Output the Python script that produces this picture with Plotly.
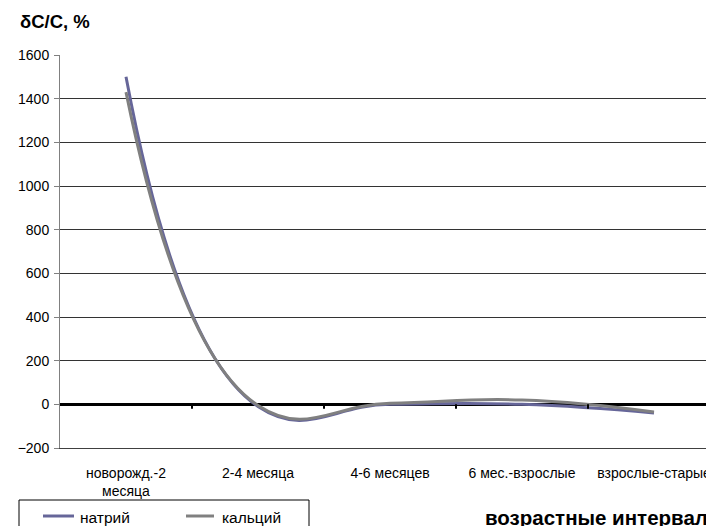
import plotly.graph_objects as go

# Age intervals (x categories) and relative change of ion content, %
categories = ["новорожд.-2<br>месяца", "2-4 месяца", "4-6 месяцев",
              "6 мес.-взрослые", "взрослые-старые"]
sodium = [1500, -10, 0, 0, -40]    # натрий
calcium = [1430, -5, 5, 20, -35]   # кальций
series_names = ["натрий", "кальций"]
series_colors = ["#666699", "#808080"]

y_ticks = [-200, 0, 200, 400, 600, 800, 1000, 1200, 1400, 1600]

W, H = 706, 526
ML, MR, MT, MB = 60, 0, 55, 78
plot_w = W - ML - MR
plot_h = H - MT - MB
cat_px = 132  # width of one category slot

font_family = "Arial, 'Liberation Sans', sans-serif"
idx = list(range(len(categories)))


def px_x(px):
    """Pixel column -> paper x."""
    return (px - ML) / plot_w


def px_y(px):
    """Pixel row -> paper y."""
    return (H - MB - px) / plot_h


fig = go.Figure()
for name, values, color in zip(series_names, [sodium, calcium], series_colors):
    fig.add_trace(go.Scatter(
        x=idx, y=values, name=name, mode="lines", showlegend=False,
        line=dict(color=color, width=3, shape="spline", smoothing=1.3),
    ))

# small tick marks on the zero line between categories
for i in range(len(categories) - 1):
    fig.add_shape(type="line", xref="x", yref="y",
                  x0=i + 0.5, x1=i + 0.5, y0=0, y1=-20,
                  line=dict(color="black", width=2), layer="above")

x_range = [-0.5, -0.5 + plot_w / cat_px]

fig.update_layout(
    width=W, height=H,
    margin=dict(l=ML, r=MR, t=MT, b=MB, pad=0, autoexpand=False),
    paper_bgcolor="white", plot_bgcolor="white",
    font=dict(family=font_family, size=14, color="black"),
    showlegend=False,
    xaxis=dict(
        range=x_range, tickmode="array", tickvals=idx, ticktext=categories,
        showgrid=False, zeroline=False, showline=True, linecolor="#404040",
        linewidth=1, ticks="", ticklabelstandoff=12,
        ticklabeloverflow="allow",
        tickfont=dict(size=14, family=font_family, color="black"),
    ),
    yaxis=dict(
        range=[-200, 1600], tickmode="array", tickvals=y_ticks,
        showgrid=True, gridcolor="#333333", gridwidth=1,
        zeroline=True, zerolinecolor="black", zerolinewidth=3,
        showline=True, linecolor="#808080", linewidth=1,
        ticks="outside", ticklen=5, tickcolor="#808080",
        ticklabelstandoff=2,
        tickfont=dict(size=14, family=font_family, color="black"),
    ),
)

# legend: frame, keys and names
fig.add_shape(type="rect", xref="paper", yref="paper",
              x0=px_x(19), x1=px_x(309), y0=px_y(500), y1=px_y(560),
              line=dict(color="black", width=1), fillcolor="rgba(0,0,0,0)")
legend_keys = [(43, 74, 78), (186, 214, 220)]
for (k0, k1, tx), name, color in zip(legend_keys, series_names, series_colors):
    fig.add_shape(type="line", xref="paper", yref="paper",
                  x0=px_x(k0), x1=px_x(k1), y0=px_y(516), y1=px_y(516),
                  line=dict(color=color, width=3))
    fig.add_annotation(text=name, xref="paper", yref="paper",
                       x=px_x(tx), y=px_y(517), xanchor="left",
                       yanchor="middle", showarrow=False,
                       font=dict(size=15.5, family=font_family, color="black"))

# y-axis caption
fig.add_annotation(text="<b>δC/C, %</b>", xref="paper", yref="paper",
                   x=px_x(18), y=px_y(21), xanchor="left", yanchor="middle",
                   showarrow=False,
                   font=dict(size=18.5, family=font_family, color="black"))

# x-axis caption
fig.add_annotation(text="<b>возрастные интервалы</b>", xref="paper",
                   yref="paper", x=px_x(483), y=px_y(517), xanchor="left",
                   yanchor="middle", showarrow=False,
                   font=dict(size=20.5, family=font_family, color="black"))

fig.write_html("out.html")
